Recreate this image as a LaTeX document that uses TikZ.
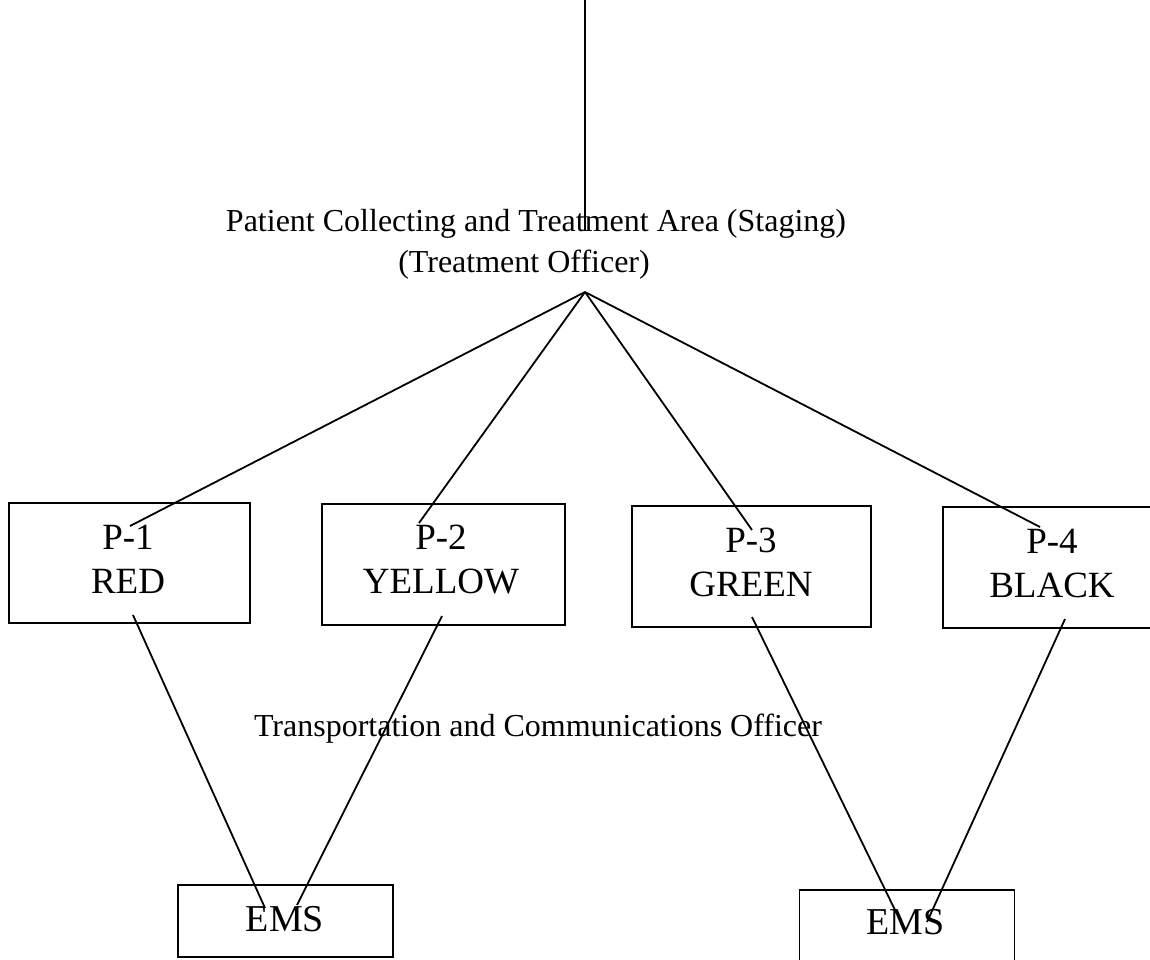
\documentclass[tikz,border=0pt]{standalone}
\usepackage{fontspec}
\setmainfont{Liberation Serif}
\begin{document}
\begin{tikzpicture}[x=1pt,y=-1pt,
  conn/.style={line width=1.8pt},
  frame/.style={draw,line width=1.8pt,inner sep=0pt},
  ptext/.style={inner sep=0pt,align=center,font=\fontsize{37}{44}\selectfont},
  etext/.style={inner sep=0pt,font=\fontsize{38}{42}\selectfont},
  tlbl/.style={inner sep=0pt,align=center,font=\fontsize{32}{41}\selectfont}]
\useasboundingbox (0,0) rectangle (1150,959);
\clip (0,0) rectangle (1150,959);
\fill[white] (0,0) rectangle (1150,959);
% title
\node[tlbl] (title) at (536,244.5) {Patient Collecting and Treatment Area (Staging)\\(Treatment Officer)\hspace*{24pt}};
\coordinate (topin) at (585,0);
\coordinate (topend) at (585,231);
\draw[conn] (topin) -- (topend);
\coordinate (apex) at (585,292);
% boxes
\node[frame,minimum width=241pt,minimum height=120pt] (p1) at (129.5,563) {};
\node[frame,minimum width=243pt,minimum height=121pt] (p2) at (443.5,564.5) {};
\node[frame,minimum width=239pt,minimum height=121pt] (p3) at (751.5,566.5) {};
\node[frame,minimum width=240pt,minimum height=121pt] (p4) at (1063,567.5) {};
\node[ptext] (p1txt) at (128,559) {P-1\\RED};
\node[ptext] (p2txt) at (441,560) {P-2\\YELLOW};
\node[ptext] (p3txt) at (751,562) {P-3\\GREEN};
\node[ptext] (p4txt) at (1052,563) {P-4\\BLACK};
\node[frame,minimum width=215pt,minimum height=72pt] (e1) at (285.5,921) {};
\node[frame,minimum width=215pt,minimum height=72pt] (e2) at (907,926) {};
\node[etext] (e1txt) at (285,919.5) {EMS};
\node[etext] (e2txt) at (905.5,922.5) {EMS};
% transport label
\node[tlbl] (trans) at (538,729) {Transportation and Communications Officer};
% connector ends
\coordinate (p1t) at (130,526);
\coordinate (p2t) at (419,523);
\coordinate (p3t) at (752,530);
\coordinate (p4t) at (1040,527);
\coordinate (p1b) at (133,615);
\coordinate (p2b) at (442,616);
\coordinate (p3b) at (752,617);
\coordinate (p4b) at (1065,619);
\coordinate (e1a) at (265,908);
\coordinate (e1b) at (297,905);
\coordinate (e2a) at (895,910);
\coordinate (e2b) at (927,922);
\draw[conn] (apex) -- (p1t);
\draw[conn] (apex) -- (p2t);
\draw[conn] (apex) -- (p3t);
\draw[conn] (apex) -- (p4t);
\draw[conn] (p1b) -- (e1a);
\draw[conn] (p2b) -- (e1b);
\draw[conn] (p3b) -- (e2a);
\draw[conn] (p4b) -- (e2b);
\end{tikzpicture}
\end{document}
